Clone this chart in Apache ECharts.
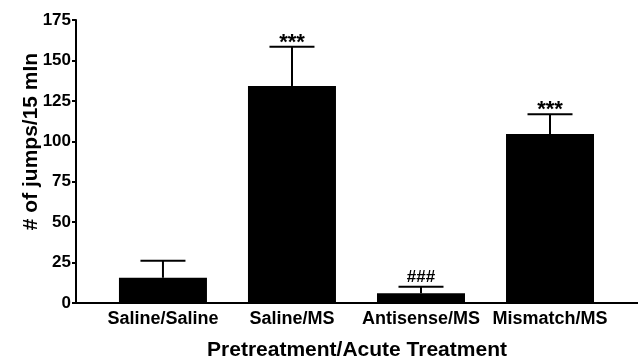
<!DOCTYPE html>
<html><head><meta charset="utf-8">
<script src="https://cdn.jsdelivr.net/npm/echarts@6/dist/echarts.min.js"></script>
<style>html,body{margin:0;padding:0;background:#fff}#c{width:638px;height:357px}</style>
</head><body><div id="c"></div>
<script>
const categories = ['Saline/Saline', 'Saline/MS', 'Antisense/MS', 'Mismatch/MS'];
const means = [15.6, 134.2, 6.0, 104.5];
const errors = [10.6, 24.3, 4.1, 12.2];
const marks = ['', '***', '###', '***'];
const yTicks = [0, 25, 50, 75, 100, 125, 150, 175];

const font = 'Liberation Sans, Arial, Helvetica, sans-serif';
const chart = echarts.init(document.getElementById('c'), null, {renderer: 'canvas'});
const barData = means.map((v, i) => [i, v]);
const errData = means.map((v, i) => [i, v, v + errors[i], marks[i]]);

chart.setOption({
  animation: false,
  backgroundColor: '#fff',
  grid: {left: 76, right: 0, top: 20, bottom: 54, outerBoundsMode: 'none', containLabel: false},
  xAxis: {
    type: 'value', min: -0.674, max: 3.682,
    name: 'Pretreatment/Acute Treatment', nameLocation: 'middle', nameGap: 37, nameMoveOverlap: false,
    nameTextStyle: {fontFamily: font, fontWeight: 'bold', fontSize: 21, color: '#000'},
    axisLine: {show: true, onZero: false, lineStyle: {color: '#000', width: 2}},
    axisTick: {show: false},
    splitLine: {show: false},
    axisLabel: {
      customValues: [0, 1, 2, 3],
      formatter: v => categories[Math.round(v)] || '',
      fontFamily: font, fontWeight: 'bold', fontSize: 18, color: '#000', margin: 7
    }
  },
  yAxis: {
    type: 'value', min: 0, max: 175, interval: 25,
    name: '# of jumps/15 mIn', nameLocation: 'middle', nameGap: 34, nameMoveOverlap: false,
    nameTextStyle: {fontFamily: font, fontWeight: 'bold', fontSize: 21, color: '#000', padding: [0, 0, 0, 40]},
    axisLine: {show: true, onZero: false, lineStyle: {color: '#000', width: 2}},
    axisTick: {show: true, length: 4, lineStyle: {color: '#000', width: 2}},
    splitLine: {show: false},
    axisLabel: {
      customValues: yTicks,
      fontFamily: font, fontWeight: 'bold', fontSize: 17, color: '#000', margin: 5
    }
  },
  series: [
    {
      type: 'bar', data: barData, barWidth: 88,
      itemStyle: {color: '#000'}
    },
    {
      type: 'custom', data: errData, z: 5,
      renderItem: function (params, api) {
        const x = api.value(0);
        const base = api.coord([x, api.value(1)]);
        const top = api.coord([x, api.value(2)]);
        const half = 22.5;
        const children = [
          {type: 'line', shape: {x1: base[0], y1: base[1], x2: top[0], y2: top[1]}, style: {stroke: '#000', lineWidth: 2}},
          {type: 'line', shape: {x1: top[0] - half, y1: top[1], x2: top[0] + half, y2: top[1]}, style: {stroke: '#000', lineWidth: 2}}
        ];
        const m = api.value(3);
        if (m) {
          const isStar = m.indexOf('*') >= 0;
          children.push({
            type: 'text',
            style: {
              text: m, x: top[0], y: isStar ? top[1] + 7 : top[1] - 9,
              align: 'center', verticalAlign: isStar ? 'bottom' : 'middle',
              font: (isStar ? 'bold 22px ' : 'bold 17px ') + font, fill: '#000'
            }
          });
        }
        return {type: 'group', children: children};
      }
    }
  ]
});
</script></body></html>
